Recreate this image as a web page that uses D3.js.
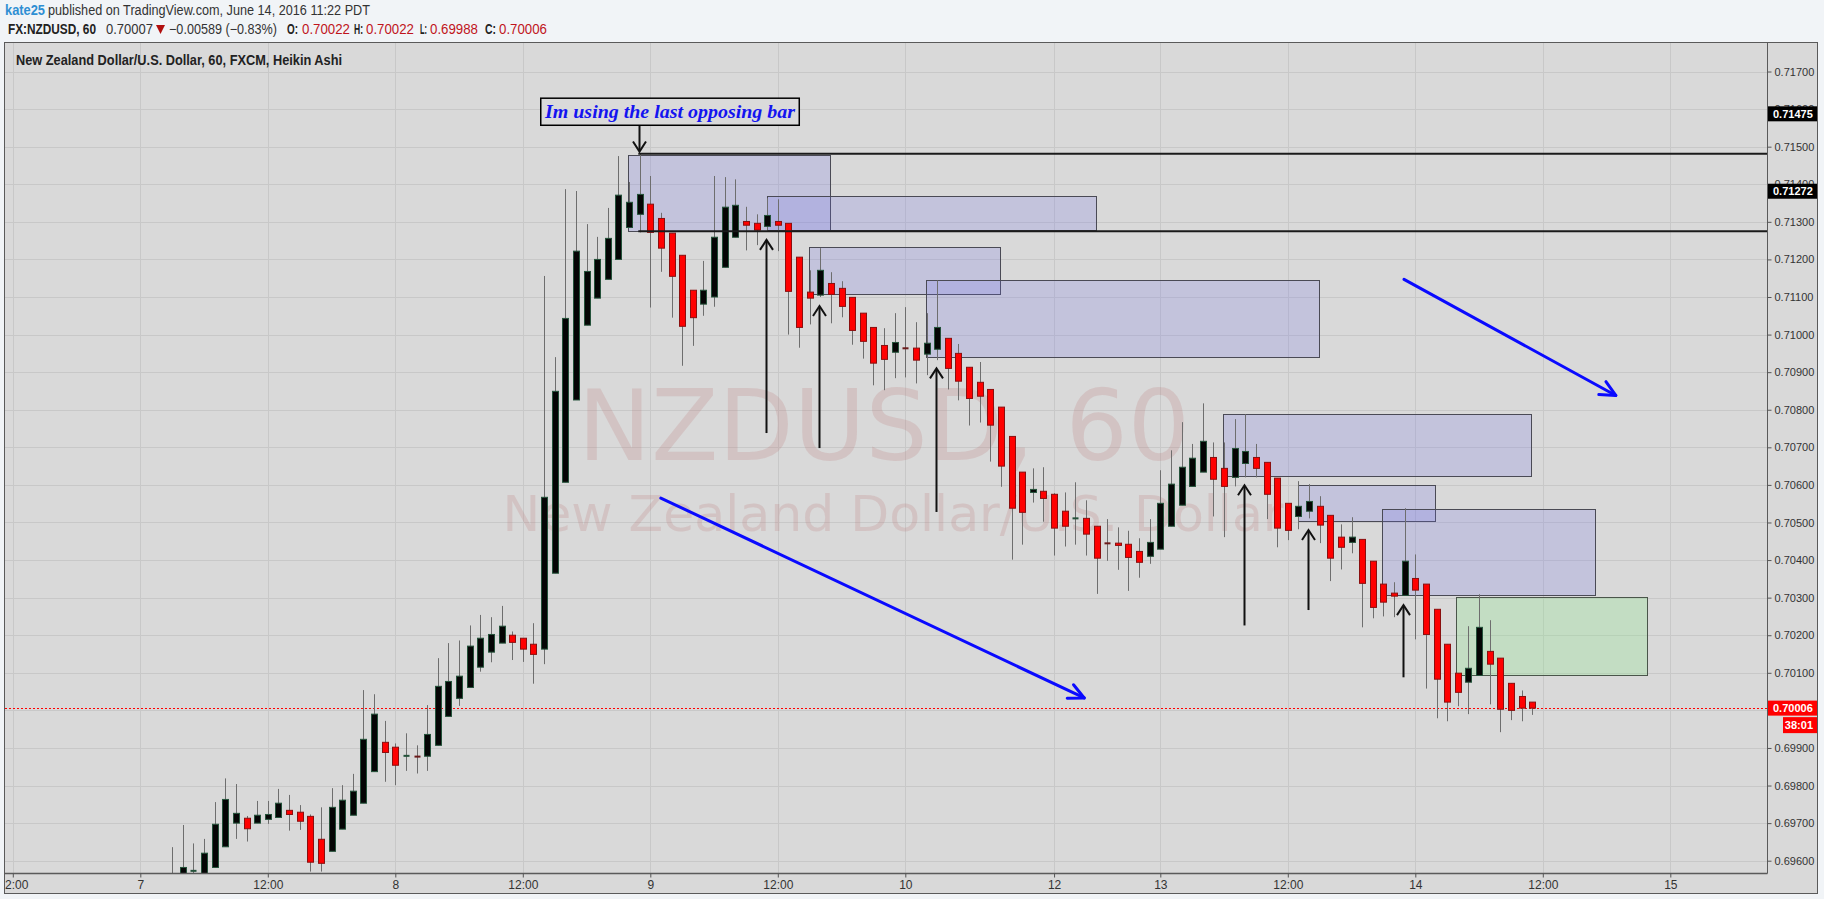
<!DOCTYPE html>
<html><head><meta charset="utf-8">
<script src="https://cdn.jsdelivr.net/npm/d3@7"></script>
<style>
html,body{margin:0;padding:0;background:#f1f4f7;}
svg{display:block;}
</style></head><body>
<svg id="c" width="1824" height="899"></svg>
<script>
// ---------------- DATA ----------------
const firstBar = 3; // bar index of first candle (hours from June 7 00:00, weekend removed)
const opens = [0.69535,0.69560,0.69572,0.69565,0.69582,0.69637,0.69700,0.69713,0.69700,0.69710,0.69715,0.69734,0.69729,0.69718,0.69657,0.69625,0.69684,0.69721,0.69753,0.69837,0.69915,0.69902,0.69878,0.69878,0.69878,0.69907,0.69984,0.70032,0.70061,0.70115,0.70155,0.70179,0.70200,0.70192,0.70176,0.70163,0.70365,0.70607,0.70826,0.71025,0.71097,0.71147,0.71200,0.71285,0.71320,0.71347,0.71309,0.71270,0.71211,0.71118,0.71081,0.71100,0.71179,0.71259,0.71301,0.71296,0.71288,0.71301,0.71296,0.71206,0.71113,0.71105,0.71136,0.71123,0.71099,0.71057,0.71019,0.70971,0.70953,0.70966,0.70964,0.70948,0.70961,0.70990,0.70950,0.70913,0.70873,0.70854,0.70807,0.70729,0.70634,0.70580,0.70583,0.70575,0.70530,0.70510,0.70511,0.70490,0.70447,0.70445,0.70442,0.70423,0.70410,0.70429,0.70490,0.70546,0.70596,0.70634,0.70673,0.70644,0.70620,0.70657,0.70673,0.70660,0.70618,0.70551,0.70516,0.70530,0.70543,0.70519,0.70461,0.70447,0.70455,0.70397,0.70336,0.70312,0.70306,0.70351,0.70336,0.70269,0.70176,0.70099,0.70075,0.70093,0.70157,0.70139,0.70072,0.70037,0.70022];
const highs = [0.69636,0.69695,0.69646,0.69658,0.69756,0.69819,0.69804,0.69719,0.69759,0.69759,0.69791,0.69775,0.69748,0.69723,0.69742,0.69793,0.69801,0.69831,0.70054,0.70043,0.69972,0.69912,0.69939,0.69907,0.70014,0.70139,0.70179,0.70186,0.70226,0.70254,0.70248,0.70278,0.70210,0.70192,0.70232,0.71156,0.70940,0.71387,0.71382,0.71294,0.71260,0.71337,0.71475,0.71406,0.71480,0.71422,0.71324,0.71270,0.71211,0.71118,0.71196,0.71422,0.71419,0.71413,0.71340,0.71320,0.71363,0.71360,0.71296,0.71206,0.71171,0.71230,0.71166,0.71142,0.71099,0.71057,0.71019,0.71017,0.71057,0.71073,0.71033,0.71057,0.71144,0.70990,0.70975,0.70913,0.70927,0.70854,0.70807,0.70729,0.70634,0.70644,0.70647,0.70578,0.70580,0.70607,0.70559,0.70490,0.70509,0.70487,0.70478,0.70458,0.70509,0.70639,0.70692,0.70767,0.70709,0.70817,0.70713,0.70713,0.70775,0.70788,0.70709,0.70660,0.70618,0.70551,0.70610,0.70602,0.70570,0.70519,0.70495,0.70514,0.70455,0.70397,0.70336,0.70341,0.70538,0.70415,0.70336,0.70269,0.70176,0.70099,0.70224,0.70309,0.70240,0.70139,0.70072,0.70053,0.70022];
const lows = [0.69520,0.69550,0.69560,0.69560,0.69582,0.69637,0.69658,0.69651,0.69700,0.69698,0.69715,0.69680,0.69682,0.69571,0.69571,0.69625,0.69684,0.69721,0.69753,0.69837,0.69810,0.69801,0.69839,0.69832,0.69839,0.69907,0.69984,0.70012,0.70061,0.70103,0.70128,0.70179,0.70134,0.70129,0.70071,0.70123,0.70365,0.70607,0.70826,0.71025,0.71097,0.71147,0.71200,0.71285,0.71272,0.71072,0.71167,0.71045,0.70917,0.70970,0.71050,0.71074,0.71179,0.71259,0.71224,0.71238,0.71275,0.71222,0.71000,0.70965,0.71027,0.71100,0.71030,0.71046,0.70973,0.70936,0.70865,0.70852,0.70884,0.70886,0.70870,0.70892,0.70932,0.70854,0.70825,0.70758,0.70766,0.70662,0.70595,0.70401,0.70441,0.70553,0.70502,0.70412,0.70436,0.70441,0.70412,0.70310,0.70398,0.70374,0.70318,0.70353,0.70390,0.70429,0.70490,0.70546,0.70596,0.70634,0.70516,0.70461,0.70596,0.70620,0.70620,0.70509,0.70434,0.70453,0.70482,0.70511,0.70445,0.70344,0.70375,0.70418,0.70221,0.70245,0.70250,0.70248,0.70306,0.70189,0.70058,0.69979,0.69971,0.70011,0.69990,0.70093,0.70016,0.69942,0.69974,0.69971,0.69988];
const closes = [0.69559,0.69582,0.69574,0.69620,0.69697,0.69763,0.69726,0.69685,0.69721,0.69723,0.69753,0.69723,0.69705,0.69596,0.69593,0.69742,0.69761,0.69785,0.69923,0.69990,0.69888,0.69854,0.69880,0.69876,0.69936,0.70064,0.70077,0.70091,0.70171,0.70192,0.70202,0.70224,0.70181,0.70163,0.70149,0.70567,0.70849,0.71043,0.71222,0.71168,0.71200,0.71256,0.71371,0.71352,0.71373,0.71272,0.71230,0.71155,0.71022,0.71045,0.71118,0.71259,0.71339,0.71344,0.71291,0.71278,0.71317,0.71291,0.71115,0.71019,0.71097,0.71171,0.71107,0.71075,0.71011,0.70982,0.70924,0.70934,0.70979,0.70961,0.70932,0.70977,0.71019,0.70910,0.70876,0.70830,0.70836,0.70759,0.70650,0.70538,0.70527,0.70588,0.70564,0.70485,0.70490,0.70512,0.70469,0.70405,0.70442,0.70439,0.70407,0.70394,0.70447,0.70551,0.70602,0.70647,0.70671,0.70716,0.70615,0.70596,0.70697,0.70689,0.70644,0.70575,0.70485,0.70479,0.70543,0.70556,0.70493,0.70405,0.70434,0.70461,0.70338,0.70274,0.70288,0.70304,0.70397,0.70320,0.70202,0.70083,0.70022,0.70048,0.70112,0.70221,0.70123,0.70003,0.70000,0.70006,0.70006];

const priceTicks = [0.696,0.697,0.698,0.699,0.700,0.701,0.702,0.703,0.704,0.705,0.706,0.707,0.708,0.709,0.710,0.711,0.712,0.713,0.714,0.715,0.716,0.717];
const timeTickBars = [-12,0,12,24,36,48,60,72,86,96,108,120,132,144];
const timeTickLabels = ["12:00","7","12:00","8","12:00","9","12:00","10","12","13","12:00","14","12:00","15"];

const levelPrices = [0.71481, 0.71275];
const levelLabels = ["0.71475", "0.71272"];
const levelStartBar = 46.87;
const lastPrice = 0.70006;
const lastPriceLabel = "0.70006";
const countdownLabel = "38:01";

// zones: [startBar, endBar, topPrice, bottomPrice]
const supplyZones = [
  [45.93, 64.94, 0.71478, 0.71275],
  [58.94, 89.93, 0.71368, 0.71277],
  [62.98, 80.95, 0.71232, 0.71107],
  [73.97, 110.96, 0.71145, 0.70939],
  [101.9, 130.89, 0.70788, 0.70622],
  [108.96, 121.89, 0.70601, 0.70506],
  [116.9, 136.9, 0.70535, 0.70306]
];
const targetZone = [123.83, 141.83, 0.70302, 0.70094];
// up arrows: [bar, tipPrice, tailPrice]
const upArrows = [
  [58.92, 0.71252, 0.70738],
  [63.88, 0.71076, 0.70698],
  [74.93, 0.70910, 0.70528],
  [103.92, 0.70599, 0.70226],
  [109.93, 0.70480, 0.70267],
  [118.87, 0.70280, 0.70088]
];
const downArrow = [46.94, 0.71555, 0.71487];
// trend arrows: [barFrom, priceFrom, barTo, priceTo]
const trendArrows = [
  [48.99, 0.70565, 88.84, 0.70033],
  [118.94, 0.71147, 138.87, 0.70838]
];
const noteText = "Im using the last opposing bar";
const noteBox = [37.69, 62.02, 0.71629, 0.71557];

// ---------------- LAYOUT ----------------
const plotL = 5, plotR = 1767, plotT = 43, plotB = 873;
const frameR = 1817, frameB = 893;

const x = d3.scaleLinear().domain([0, 144]).range([140.3, 140.3 + 144 * 10.625]);
const y = d3.scaleLinear().domain([0.696, 0.717]).range([860.7, 860.7 - 21 * 37.58]);

const svg = d3.select("#c");
const defs = svg.append("defs");
defs.append("clipPath").attr("id", "plotClip").append("rect")
  .attr("x", plotL).attr("y", plotT).attr("width", plotR - plotL).attr("height", plotB - plotT);
defs.append("clipPath").attr("id", "xAxisClip").append("rect")
  .attr("x", plotL).attr("y", plotB).attr("width", plotR - plotL).attr("height", frameB - plotB);

// frame background
svg.append("rect").attr("x", plotL - 0.5).attr("y", plotT - 0.5)
  .attr("width", frameR - plotL + 1).attr("height", frameB - plotT + 1)
  .attr("fill", "#d9d9d9").attr("stroke", "#5a5a5a").attr("stroke-width", 1);

const plot = svg.append("g").attr("clip-path", "url(#plotClip)");

// grid
plot.append("g").selectAll("line").data(priceTicks).join("line")
  .attr("x1", plotL).attr("x2", plotR)
  .attr("y1", d => Math.round(y(d)) + 0.5).attr("y2", d => Math.round(y(d)) + 0.5)
  .attr("stroke", "#c8c8c8").attr("stroke-width", 1);
plot.append("g").selectAll("line").data(timeTickBars).join("line")
  .attr("x1", d => Math.round(x(d)) + 0.5).attr("x2", d => Math.round(x(d)) + 0.5)
  .attr("y1", plotT).attr("y2", plotB)
  .attr("stroke", "#c8c8c8").attr("stroke-width", 1);

// watermark
plot.append("text").attr("x", 884).attr("y", 460).attr("text-anchor", "middle")
  .attr("font-family", "DejaVu Sans, Verdana, sans-serif").attr("font-size", 98)
  .attr("fill", "rgb(185,110,110)").attr("fill-opacity", 0.2).text("NZDUSD, 60");
plot.append("text").attr("x", 893).attr("y", 531).attr("text-anchor", "middle")
  .attr("font-family", "DejaVu Sans, Verdana, sans-serif").attr("font-size", 50.5)
  .attr("fill", "rgb(185,110,110)").attr("fill-opacity", 0.2).text("New Zealand Dollar/U.S. Dollar");

// zones
const zoneG = plot.append("g");
zoneG.selectAll("rect.sz").data(supplyZones).join("rect").attr("class", "sz")
  .attr("x", d => Math.round(x(d[0])) + 0.5).attr("y", d => Math.round(y(d[2])) + 0.5)
  .attr("width", d => Math.round(x(d[1]) - x(d[0]))).attr("height", d => Math.round(y(d[3]) - y(d[2])))
  .attr("fill", "rgb(110,112,235)").attr("fill-opacity", 0.2)
  .attr("stroke", "#4a4a55").attr("stroke-width", 1);
zoneG.append("rect")
  .attr("x", Math.round(x(targetZone[0])) + 0.5).attr("y", Math.round(y(targetZone[2])) + 0.5)
  .attr("width", Math.round(x(targetZone[1]) - x(targetZone[0]))).attr("height", Math.round(y(targetZone[3]) - y(targetZone[2])))
  .attr("fill", "rgb(130,235,130)").attr("fill-opacity", 0.25)
  .attr("stroke", "#4a554a").attr("stroke-width", 1);

// last price dotted line
plot.append("line").attr("x1", plotL).attr("x2", plotR)
  .attr("y1", Math.round(y(lastPrice)) + 0.5).attr("y2", Math.round(y(lastPrice)) + 0.5)
  .attr("stroke", "#ff0000").attr("stroke-width", 1).attr("stroke-dasharray", "2,2");

// candles
const candles = opens.map((o, k) => ({ i: firstBar + k, o, h: highs[k], l: lows[k], c: closes[k] }));
const cg = plot.append("g");
cg.selectAll("line.wick").data(candles).join("line").attr("class", "wick")
  .attr("x1", d => Math.round(x(d.i)) + 0.5).attr("x2", d => Math.round(x(d.i)) + 0.5)
  .attr("y1", d => y(d.h)).attr("y2", d => y(d.l))
  .attr("stroke", "#6e6e6e").attr("stroke-width", 1);
const isDoji = d => Math.abs(y(d.o) - y(d.c)) < 2;
cg.selectAll("rect.body").data(candles).join("rect").attr("class", "body")
  .attr("x", d => Math.round(x(d.i)) - 2.5)
  .attr("y", d => {
    const t = y(Math.max(d.o, d.c)), b = y(Math.min(d.o, d.c));
    return isDoji(d) ? (t + b) / 2 - 1 : t;
  })
  .attr("width", 6)
  .attr("height", d => Math.max(2, y(Math.min(d.o, d.c)) - y(Math.max(d.o, d.c))))
  .attr("fill", d => isDoji(d) ? (d.c >= d.o ? "#24523a" : "#6a1a1a") : (d.c >= d.o ? "#050505" : "#ff0000"))
  .attr("stroke", d => d.c >= d.o ? "#24523a" : "#8a0f0f")
  .attr("stroke-width", d => isDoji(d) ? 0 : 1);

// horizontal level lines
plot.append("g").selectAll("line").data(levelPrices).join("line")
  .attr("x1", x(levelStartBar)).attr("x2", plotR)
  .attr("y1", d => y(d)).attr("y2", d => y(d))
  .attr("stroke", "#1a1a1a").attr("stroke-width", 2);

// arrows (black)
const ag = plot.append("g").attr("stroke", "#111").attr("stroke-width", 2).attr("fill", "none");
upArrows.forEach(a => {
  const ax = Math.round(x(a[0])) + 0.5, ty = y(a[1]), by = y(a[2]);
  ag.append("line").attr("x1", ax).attr("x2", ax).attr("y1", ty + 1).attr("y2", by);
  ag.append("path").attr("d", `M${ax - 6.5},${ty + 10}L${ax},${ty}L${ax + 6.5},${ty + 10}`);
});
{
  const ax = Math.round(x(downArrow[0])) + 0.5, ty = y(downArrow[1]), by = y(downArrow[2]);
  ag.append("line").attr("x1", ax).attr("x2", ax).attr("y1", ty).attr("y2", by - 1);
  ag.append("path").attr("d", `M${ax - 6.5},${by - 10}L${ax},${by}L${ax + 6.5},${by - 10}`);
}

// trend arrows (blue)
const bg = plot.append("g").attr("stroke", "#0a0aff").attr("stroke-width", 3).attr("fill", "none")
  .attr("stroke-linecap", "round").attr("stroke-linejoin", "round");
trendArrows.forEach(a => {
  const x1 = x(a[0]), y1 = y(a[1]), x2 = x(a[2]), y2 = y(a[3]);
  bg.append("line").attr("x1", x1).attr("y1", y1).attr("x2", x2).attr("y2", y2);
  const ang = Math.atan2(y2 - y1, x2 - x1), L = 17, sp = 0.45;
  const p1 = [x2 - L * Math.cos(ang - sp), y2 - L * Math.sin(ang - sp)];
  const p2 = [x2 - L * Math.cos(ang + sp), y2 - L * Math.sin(ang + sp)];
  bg.append("path").attr("d", `M${p1[0]},${p1[1]}L${x2},${y2}L${p2[0]},${p2[1]}`);
});

// note box
{
  const bx1 = x(noteBox[0]), bx2 = x(noteBox[1]), by1 = y(noteBox[2]), by2 = y(noteBox[3]);
  plot.append("rect").attr("x", bx1).attr("y", by1).attr("width", bx2 - bx1).attr("height", by2 - by1)
    .attr("fill", "#dadada").attr("stroke", "#000").attr("stroke-width", 1.5);
  plot.append("text").attr("x", (bx1 + bx2) / 2).attr("y", by2 - 7).attr("text-anchor", "middle")
    .attr("font-family", "Liberation Serif, Times New Roman, serif").attr("font-style", "italic")
    .attr("font-weight", "bold").attr("font-size", 19.5).attr("fill", "#1414f0")
    .attr("textLength", 250).attr("lengthAdjust", "spacingAndGlyphs").text(noteText);
}

// chart title
svg.append("text").attr("x", 16).attr("y", 65)
  .attr("font-family", "Liberation Sans Narrow, Arial Narrow, Liberation Sans, sans-serif")
  .attr("font-weight", "bold").attr("font-size", 14).attr("fill", "#222")
  .attr("textLength", 326).attr("lengthAdjust", "spacingAndGlyphs")
  .text("New Zealand Dollar/U.S. Dollar, 60, FXCM, Heikin Ashi");

// axes lines
svg.append("line").attr("x1", plotR + 0.5).attr("x2", plotR + 0.5).attr("y1", plotT).attr("y2", plotB + 0.5)
  .attr("stroke", "#5a5a5a").attr("stroke-width", 1);
svg.append("line").attr("x1", plotL).attr("x2", plotR + 0.5).attr("y1", plotB + 0.5).attr("y2", plotB + 0.5)
  .attr("stroke", "#5a5a5a").attr("stroke-width", 1.5);

// right axis
const yAxis = d3.axisRight(y).tickValues(priceTicks).tickFormat(d3.format(".5f")).tickSize(4).tickPadding(3);
const yg = svg.append("g").attr("transform", `translate(${plotR + 0.5},0)`).call(yAxis);
yg.select(".domain").remove();
yg.selectAll(".tick line").attr("stroke", "#555");
yg.selectAll(".tick text").attr("font-family", "Liberation Sans, Arial, sans-serif").attr("font-size", 11).attr("fill", "#333");

// bottom axis (outer group carries the clip in page coordinates)
const xAxis = d3.axisBottom(x).tickValues(timeTickBars).tickFormat((d, k) => timeTickLabels[k]).tickSize(4).tickPadding(3);
const xgOuter = svg.append("g").attr("clip-path", "url(#xAxisClip)");
const xg = xgOuter.append("g").attr("transform", `translate(0,${plotB + 0.5})`).call(xAxis);
xg.select(".domain").remove();
xg.selectAll(".tick line").attr("stroke", "#555");
xg.selectAll(".tick text").attr("font-family", "Liberation Sans Narrow, Arial Narrow, Liberation Sans, sans-serif")
  .attr("font-size", 12).attr("fill", "#333");

// price labels on right axis
const lab = svg.append("g");
levelLabels.forEach((t, k) => {
  const cy = y(levelPrices[k]) - 40;
  lab.append("rect").attr("x", plotR + 1).attr("y", cy - 7.5).attr("width", frameR - plotR - 1).attr("height", 15).attr("fill", "#000");
  lab.append("text").attr("x", plotR + 6).attr("y", cy + 4).attr("font-family", "Liberation Sans, Arial, sans-serif")
    .attr("font-weight", "bold").attr("font-size", 11).attr("fill", "#fff").text(t);
});
{
  const cy = y(lastPrice);
  lab.append("rect").attr("x", plotR + 1).attr("y", cy - 7.5).attr("width", frameR - plotR - 1).attr("height", 15).attr("fill", "#ff0000");
  lab.append("text").attr("x", plotR + 6).attr("y", cy + 4).attr("font-family", "Liberation Sans, Arial, sans-serif")
    .attr("font-weight", "bold").attr("font-size", 11).attr("fill", "#fff").text(lastPriceLabel);
  lab.append("rect").attr("x", plotR + 16).attr("y", cy + 9).attr("width", frameR - plotR - 16).attr("height", 16).attr("fill", "#ff0000");
  lab.append("text").attr("x", frameR - 4).attr("y", cy + 21).attr("text-anchor", "end").attr("font-family", "Liberation Sans, Arial, sans-serif")
    .attr("font-weight", "bold").attr("font-size", 11).attr("fill", "#fff").text(countdownLabel);
}

// header
const hf = "Liberation Sans Narrow, Arial Narrow, Liberation Sans, sans-serif";
function ht(xp, yp, txt, col, bold, len) {
  const t = svg.append("text").attr("x", xp).attr("y", yp).attr("font-family", hf).attr("font-size", 14)
    .attr("fill", col).attr("font-weight", bold ? "bold" : "normal").text(txt);
  if (len) t.attr("textLength", len).attr("lengthAdjust", "spacingAndGlyphs");
  return t;
}
ht(5, 15, "kate25", "#2f8fd3", true, 40);
ht(48, 15, "published on TradingView.com, June 14, 2016 11:22 PDT", "#333", false, 322);
ht(8, 34, "FX:NZDUSD, 60", "#222", true, 88);
ht(106, 34, "0.70007", "#333", false, 47);
svg.append("path").attr("d", "M156,25L165,25L160.5,34Z").attr("fill", "#b10f0f");
ht(169, 34, "\u22120.00589 (\u22120.83%)", "#333", false, 108);
const ohlc = [["O:", 287, 11, "0.70022", 302], ["H:", 354, 9, "0.70022", 366], ["L:", 420, 7, "0.69988", 430], ["C:", 485, 11, "0.70006", 499]];
ohlc.forEach(r => {
  ht(r[1], 34, r[0], "#222", true, r[2]);
  ht(r[4], 34, r[3], "#c0141c", false, 48);
});
</script>
</body></html>
